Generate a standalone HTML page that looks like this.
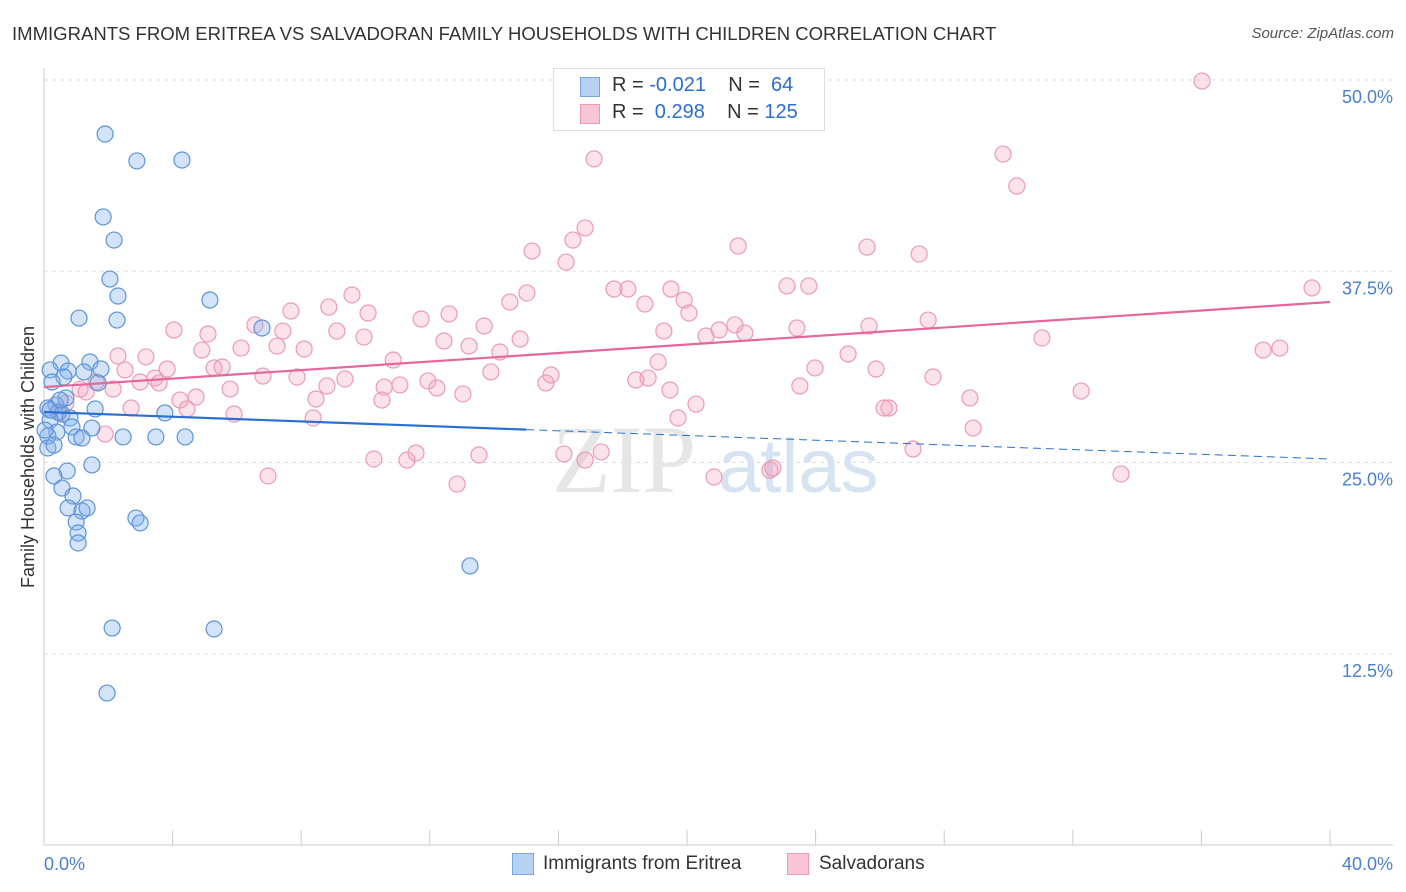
<!DOCTYPE html>
<html><head><meta charset="utf-8"><style>
body{margin:0;background:#fff;font-family:"Liberation Sans",sans-serif;}
#wrap{position:relative;width:1406px;height:892px;overflow:hidden;}
.t{position:absolute;}
</style></head><body>
<div id="wrap">
<div class="t" style="left:12px;top:23px;font-size:18.55px;color:#333;">IMMIGRANTS FROM ERITREA VS SALVADORAN FAMILY HOUSEHOLDS WITH CHILDREN CORRELATION CHART</div>
<div class="t" style="right:12px;top:25px;font-size:15px;color:#555;font-style:italic;">Source: ZipAtlas.com</div>
<svg id="svg" width="1406" height="892" style="position:absolute;left:0;top:0"></svg>
</div>
<script>
const blueX=[1.90,2.89,4.29,1.84,2.18,2.05,2.30,5.16,1.09,2.27,6.78,0.53,1.43,0.19,1.77,1.24,0.75,0.62,1.68,0.25,0.68,0.37,1.59,0.12,0.44,0.56,0.81,3.76,0.19,0.87,1.49,0.40,0.12,1.00,1.18,2.46,3.48,4.39,0.12,1.49,0.72,0.31,0.56,0.90,0.75,1.18,1.34,1.00,1.06,1.06,2.86,2.99,13.25,2.12,5.29,1.96,0.03,0.19,0.50,0.31];
const blueY=[46.47,44.71,44.77,41.05,39.54,36.99,35.88,35.62,34.44,34.31,33.79,31.50,31.57,31.05,31.11,30.92,30.98,30.59,30.20,30.26,29.22,28.76,28.50,28.56,28.30,28.17,27.91,28.24,27.78,27.32,27.25,26.99,26.73,26.67,26.60,26.67,26.67,26.67,25.95,24.84,24.44,24.12,23.33,22.81,22.03,21.83,22.03,21.11,20.39,19.74,21.37,21.05,18.24,14.18,14.12,9.93,27.12,28.43,29.08,26.14];
const pinkX=[36.02,17.11,29.83,30.26,16.83,16.45,15.18,16.24,21.59,25.60,27.22,17.73,18.16,19.50,23.11,23.79,39.44,18.69,19.91,15.02,14.49,9.58,7.68,8.86,10.08,12.60,11.73,20.06,4.04,5.10,6.56,7.43,9.11,9.95,13.69,14.81,21.00,21.49,21.80,20.59,19.28,23.42,25.66,27.50,31.04,38.44,37.92,4.91,6.13,7.25,8.09,12.44,13.22,14.18,2.30,3.17,10.86,25.01,19.10,2.52,3.83,3.45,5.29,5.54,6.81,7.87,9.36,15.77,13.90,23.98,25.88,2.99,3.58,18.41,18.79,27.65,15.61,11.94,12.22,11.07,10.58,8.80,5.79,2.15,1.31,1.62,1.12,32.26,4.73,4.23,8.46,10.51,13.03,23.51,19.47,4.45,2.71,5.91,20.28,26.13,26.28,28.80,8.37,19.72,0.47,0.68,1.90,28.90,6.97,10.26,11.29,11.57,12.85,13.53,16.17,16.83,17.33,20.84,22.58,22.67,27.03,33.50];
const pinkY=[49.93,44.84,45.16,43.07,40.33,39.54,38.82,38.10,39.15,39.08,38.63,36.34,36.34,36.34,36.54,36.54,36.41,35.36,35.62,36.08,35.49,35.95,34.90,35.16,34.77,34.71,34.38,34.77,33.66,33.40,33.99,33.59,33.59,33.20,33.92,33.07,33.66,33.99,33.46,33.27,33.59,33.79,33.92,34.31,33.14,32.48,32.35,32.35,32.48,32.61,32.42,32.94,32.61,32.22,31.96,31.90,31.70,32.09,31.57,31.05,31.11,30.52,31.18,31.24,30.65,30.59,30.46,30.72,30.92,31.18,31.11,30.26,30.20,30.39,30.52,30.59,30.20,30.33,29.87,30.07,29.93,30.00,29.80,29.80,29.61,30.26,29.80,29.67,29.28,29.08,29.15,29.08,29.48,30.00,29.74,28.50,28.56,28.17,28.82,28.56,28.56,29.22,27.91,27.91,28.24,28.89,26.86,27.25,24.12,25.23,25.16,25.62,23.59,25.49,25.56,25.16,25.69,24.05,24.51,24.64,25.88,24.25];
const blueTrend=[28.30,25.23]; // y at x=0, x=40
const pinkTrend=[29.93,35.49];
const yTicks=[50,37.5,25,12.5];
const yTickLabels=["50.0%","37.5%","25.0%","12.5%"];

const NS="http://www.w3.org/2000/svg",svg=document.getElementById('svg');
const X0=44,X1=1330,Y0=845,YTOP=80;
const sx=v=>X0+(X1-X0)*v/40, sy=v=>Y0-(Y0-YTOP)*v/50;
function mk(t,a,p){const e=document.createElementNS(NS,t);for(const k in a)e.setAttribute(k,a[k]);(p||svg).appendChild(e);return e;}
yTicks.forEach((v,i)=>{
 const g=mk('line',{x1:X0,x2:1393,y1:sy(v),y2:sy(v),stroke:'#dde1e6','stroke-dasharray':'4,4'});
 
 
 const t=mk('text',{x:1393,y:sy(v)+23,'text-anchor':'end','font-size':18,fill:'#4a7fd4','font-family':'Liberation Sans'});
 t.textContent=yTickLabels[i];
 
 
});
mk('line',{x1:X0,x2:X0,y1:68,y2:Y0,stroke:'#ccc'});
mk('line',{x1:X0,x2:1393,y1:Y0,y2:Y0,stroke:'#ccc'});
for(let i=0;i<=10;i++){const l=mk('line',{x1:sx(i*4),x2:sx(i*4),y1:830,y2:Y0,stroke:'#ccc'});
 
 }
let t=mk('text',{x:44,y:870,'font-size':18,fill:'#4a7fd4','font-family':'Liberation Sans'});t.textContent='0.0%';

t=mk('text',{x:1393,y:870,'text-anchor':'end','font-size':18,fill:'#4a7fd4','font-family':'Liberation Sans'});t.textContent='40.0%';

t=mk('text',{x:34,y:457,'text-anchor':'middle','font-size':18,fill:'#333','font-family':'Liberation Sans',transform:'rotate(-90 34 457)'});t.textContent='Family Households with Children';

t=mk('text',{x:552,y:492,'font-size':96,fill:'#e4e6e8','font-family':'Liberation Serif'});t.textContent='ZIP';

t=mk('text',{x:718,y:492,'font-size':76,fill:'#d6e3f3','font-family':'Liberation Sans'});t.textContent='atlas';

for(let i=0;i<pinkX.length;i++){const c=mk('circle',{cx:sx(pinkX[i]),cy:sy(pinkY[i]),r:8,fill:'rgba(244,160,190,0.3)',stroke:'#eb9bb7','stroke-width':1.2});
 
 }
for(let i=0;i<blueX.length;i++){const c=mk('circle',{cx:sx(blueX[i]),cy:sy(blueY[i]),r:8,fill:'rgba(130,175,235,0.35)',stroke:'#5d94d8','stroke-width':1.2});
 
 }
const by=x=>blueTrend[0]+(blueTrend[1]-blueTrend[0])*x/40;
let l=mk('line',{x1:sx(0),y1:sy(by(0)),x2:sx(15),y2:sy(by(15)),stroke:'#2a6fd1','stroke-width':2.2});

l=mk('line',{x1:sx(15),y1:sy(by(15)),x2:sx(40),y2:sy(by(40)),stroke:'#2a6fd1','stroke-width':1,'stroke-dasharray':'8,5'});

l=mk('line',{x1:sx(0),y1:sy(pinkTrend[0]),x2:sx(40),y2:sy(pinkTrend[1]),stroke:'#e6679a','stroke-width':2.2});

</script>
<div class="t" style="left:553px;top:68px;width:270px;height:61px;border:1px solid #ddd;background:#fff;font-size:20px;">
 <div style="position:absolute;left:26px;top:8px;width:18px;height:18px;background:#b7d1f3;border:1px solid #7aa6e0"></div>
 <div style="position:absolute;left:58px;top:5px;color:#333;white-space:pre">R = <span style="color:#2a6fd1">-0.021</span>    N =  <span style="color:#2a6fd1">64</span></div>
 <div style="position:absolute;left:26px;top:35px;width:18px;height:18px;background:#f8c6d6;border:1px solid #ec9ab6"></div>
 <div style="position:absolute;left:58px;top:32px;color:#333;white-space:pre">R =  <span style="color:#2a6fd1">0.298</span>    N = <span style="color:#2a6fd1">125</span></div>
</div>
<div class="t" style="left:512px;top:853px;width:20px;height:20px;background:#b7d1f3;border:1px solid #7aa6e0"></div>
<div class="t" style="left:543px;top:853px;font-size:19px;color:#333">Immigrants from Eritrea</div>
<div class="t" style="left:787px;top:853px;width:20px;height:20px;background:#f8c6d6;border:1px solid #ec9ab6"></div>
<div class="t" style="left:819px;top:853px;font-size:19px;color:#333">Salvadorans</div>
</body></html>
